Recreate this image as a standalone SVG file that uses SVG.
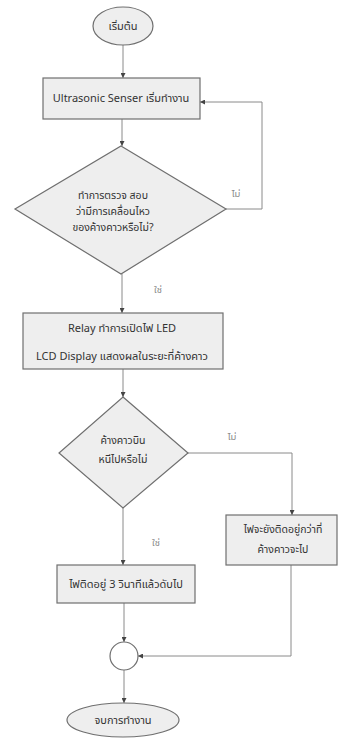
<svg xmlns="http://www.w3.org/2000/svg" width="357" height="740" viewBox="0 0 357 740">
  <style>
    .shape { fill: #eeeeee; stroke: #6f6f6f; stroke-width: 1.2; }
    .edge { fill: none; stroke: #8a8a8a; stroke-width: 1; marker-end: url(#arrow); }
    .label { font-family: "Noto Sans", "Noto Sans Thai", "Liberation Sans", sans-serif; font-size: 11px; fill: #333333; text-anchor: middle; }
    .small { font-size: 10.5px; }
    .tag { font-family: "Noto Sans", "Noto Sans Thai", "Liberation Sans", sans-serif; font-size: 9.5px; fill: #8a8a8a; text-anchor: middle; }
  </style>
  <defs>
    <marker id="arrow" viewBox="0 0 6 6" refX="6" refY="3" markerWidth="5" markerHeight="5" markerUnits="userSpaceOnUse" orient="auto">
      <path d="M0,0 L6,3 L0,6 z" fill="#444"/>
    </marker>
  </defs>
  <rect width="357" height="740" fill="#ffffff"/>

  <g id="connectors">
    <path class="edge" d="M123,45 V78"/>
    <path class="edge" d="M122,119 V146"/>
    <path class="edge" d="M226,209 H262 V102 H200"/>
    <path class="edge" d="M122,274 V313"/>
    <path class="edge" d="M123,369 V397"/>
    <path class="edge" d="M188,453 H292 V515"/>
    <path class="edge" d="M123,508 V565"/>
    <path class="edge" d="M124,603 V642"/>
    <path class="edge" d="M291,565 V656 H138"/>
    <path class="edge" d="M124,670 V703"/>
    <text class="tag" x="236" y="197">ไม่</text>
    <text class="tag" x="158" y="293">ใช่</text>
    <text class="tag" x="232" y="440">ไม่</text>
    <text class="tag" x="156" y="546">ใช่</text>
  </g>

  <g id="start">
    <ellipse class="shape" cx="123" cy="26" rx="30" ry="19"/>
    <text class="label" x="123" y="30">เริ่มต้น</text>
  </g>

  <g id="sensor">
    <rect class="shape" x="43" y="78" width="157" height="41"/>
    <text class="label" x="121" y="102">Ultrasonic Senser เริ่มทำงาน</text>
  </g>

  <g id="check-motion">
    <polygon class="shape" points="121,146 226,209 121,274 15,209"/>
    <text class="label small" x="113" y="199">ทำการตรวจ  สอบ</text>
    <text class="label small" x="113" y="215">ว่ามีการเคลื่อนไหว</text>
    <text class="label small" x="113" y="231">ของค้างคาวหรือไม่?</text>
  </g>

  <g id="relay">
    <rect class="shape" x="23" y="313" width="200" height="56"/>
    <text class="label" x="122" y="332">Relay ทำการเปิดไฟ LED</text>
    <text class="label" x="122" y="360">LCD Display แสดงผลในระยะที่ค้างคาว</text>
  </g>

  <g id="check-flight">
    <polygon class="shape" points="123,397 188,453 123,508 59,453"/>
    <text class="label small" x="123" y="444">ค้างคาวบิน</text>
    <text class="label small" x="123" y="463">หนีไปหรือไม่</text>
  </g>

  <g id="light-stay">
    <rect class="shape" x="226" y="515" width="111" height="50"/>
    <text class="label small" x="283" y="533">ไฟจะยังติดอยู่กว่าที่</text>
    <text class="label small" x="283" y="553">ค้างคาวจะไป</text>
  </g>

  <g id="light-off">
    <rect class="shape" x="57" y="565" width="138" height="38"/>
    <text class="label" x="126" y="588">ไฟติดอยู่ 3 วินาทีแล้วดับไป</text>
  </g>

  <g id="merge">
    <circle cx="124" cy="656" r="14" fill="#ffffff" stroke="#6f6f6f" stroke-width="1.2"/>
  </g>

  <g id="end">
    <ellipse class="shape" cx="123" cy="720" rx="56" ry="17"/>
    <text class="label" x="123" y="724">จบการทำงาน</text>
  </g>
</svg>
